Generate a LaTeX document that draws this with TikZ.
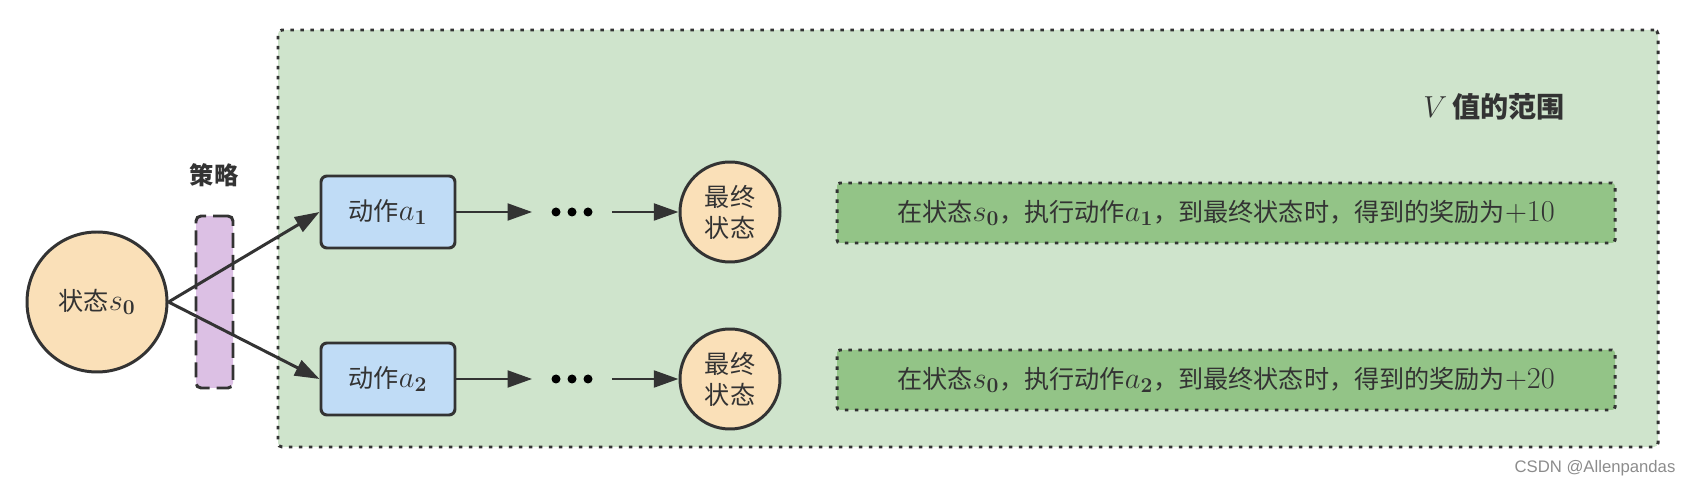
\documentclass[tikz,border=0pt]{standalone}
\usepackage{amsmath}
\usepackage[no-math]{fontspec}
\setmainfont{Noto Sans CJK SC}
\newfontfamily\markfont{Liberation Sans}
\usetikzlibrary{arrows.meta, positioning}

\definecolor{linegray}{RGB}{51,51,51}
\definecolor{stateorange}{RGB}{250,224,184}
\definecolor{actionblue}{RGB}{192,220,246}
\definecolor{policypurple}{RGB}{220,192,228}
\definecolor{rangegreen}{RGB}{207,228,204}
\definecolor{rewardgreen}{RGB}{147,196,135}

% symbol with a bold index, set a little larger than the text
\newcommand{\symidx}[2]{{\fontsize{17.5}{17.5}\selectfont$#1_{\mathbf{#2}}$}}
\newcommand{\bignum}[1]{{\fontsize{16.5}{16.5}\selectfont$#1$}}

\begin{document}
\begin{tikzpicture}[>={Triangle[length=14pt,width=9.5pt]}, color=linegray,
        font=\fontsize{14.3}{17.6}\selectfont,
        state/.style={circle, draw, line width=1.7pt, fill=stateorange, inner sep=0pt},
        action/.style={draw, line width=1.7pt, rounded corners=0.12cm, fill=actionblue,
            minimum width=2.68cm, minimum height=1.44cm},
        policy/.style={draw, line width=1.7pt, rounded corners=0.1cm, fill=policypurple,
            dash pattern=on 0.3cm off 0.14cm, minimum width=0.74cm, minimum height=3.44cm},
        dotline/.style={draw, line width=1.7pt, dash pattern=on 0.07cm off 0.13cm},
        reward/.style={dotline, rounded corners=0.06cm, fill=rewardgreen,
            minimum width=15.56cm, minimum height=1.2cm},
        dots/.style={inner sep=0pt, minimum width=1.58cm, minimum height=0.4cm},
        flow/.style={->, line width=1.7pt}]
        \useasboundingbox (0, 0) rectangle (33.76, -9.68);
        % Range of V
        \node[dotline, rounded corners=0.08cm, fill=rangegreen,
            minimum width=27.6cm, minimum height=8.34cm] (range) at (19.36, -4.77) {};
        \node[font=\fontsize{16}{18}\selectfont\bfseries] (rangename) at (29.88, -2.14) {{\fontsize{18}{18}\selectfont$V$}\,值的范围};
        % Start state and policy
        \node[state, minimum size=2.8cm] (s0) at (1.94, -6.04) {状态\symidx{s}{0}};
        \node[policy] (pol) at (4.29, -6.04) {};
        \node[font=\fontsize{13.8}{17.6}\selectfont\bfseries] (polname) at (4.28, -3.5) {策略};
        % Actions
        \node[action] (a1) at (7.76, -4.24) {动作\symidx{a}{1}};
        \node[action] (a2) at (7.76, -7.58) {动作\symidx{a}{2}};
        \draw[flow] (s0.east) -- (a1.west);
        \draw[flow] (s0.east) -- (a2.west);
        % Trajectories
        \node[dots] (d1) at (11.44, -4.24) {};
        \node[dots] (d2) at (11.44, -7.58) {};
        \foreach \d in {d1, d2} {
            \foreach \dx in {-0.32, 0, 0.32} { \fill[black] ([xshift=\dx cm]\d.center) circle (0.09); }
        }
        \node[state, minimum size=2cm, align=center] (f1) at (14.6, -4.24) {最终\\状态};
        \node[state, minimum size=2cm, align=center] (f2) at (14.6, -7.58) {最终\\状态};
        \draw[flow] (a1) -- (d1);
        \draw[flow] (d1) -- (f1);
        \draw[flow] (a2) -- (d2);
        \draw[flow] (d2) -- (f2);
        % Rewards
        \node[reward] (r1) at (24.52, -4.26) {在状态\symidx{s}{0}，执行动作\symidx{a}{1}，到最终状态时，得到的奖励为\bignum{+10}};
        \node[reward] (r2) at (24.52, -7.6) {在状态\symidx{s}{0}，执行动作\symidx{a}{2}，到最终状态时，得到的奖励为\bignum{+20}};
        % Watermark
        \node[font=\markfont\fontsize{9.5}{11}\selectfont, text=black!45] (mark) at (31.9, -9.36) {CSDN @Allenpandas};
\end{tikzpicture}
\end{document}
